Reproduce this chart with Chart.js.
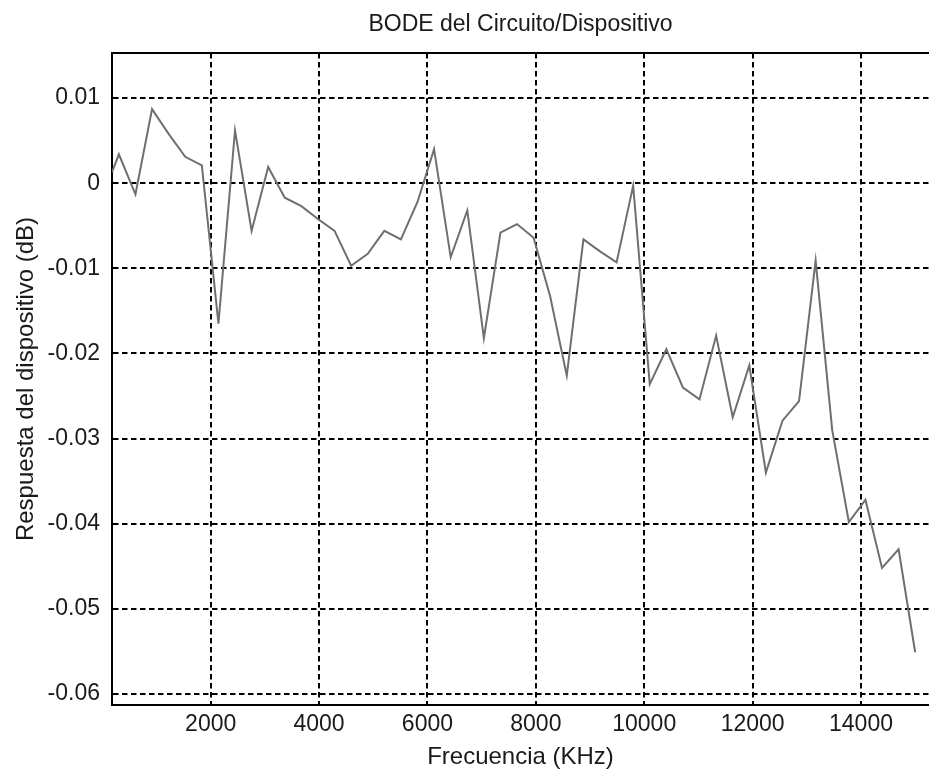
<!DOCTYPE html>
<html>
<head>
<meta charset="utf-8">
<title>BODE del Circuito/Dispositivo</title>
<script src="https://cdn.jsdelivr.net/npm/chart.js@4.4.1/dist/chart.umd.min.js"></script>
<style>
  html, body { margin: 0; padding: 0; background: #fff; }
  #bode { display: block; }
</style>
</head>
<body>
<canvas id="bode" width="929" height="775"></canvas>
<script>
// frequency (KHz) of each sample
const frequencies = [
    180, 306, 612, 918, 1224, 1531, 1837, 2143, 2449, 2755,
    3061, 3367, 3673, 3980, 4286, 4592, 4898, 5204, 5510, 5816,
    6122, 6429, 6735, 7041, 7347, 7653, 7959, 8265, 8571, 8878,
    9184, 9490, 9796, 10102, 10408, 10714, 11020, 11327, 11633, 11939,
    12245, 12551, 12857, 13163, 13469, 13776, 14082, 14388, 14694, 15000
];

// device response (dB)
const response = [
    0.0013, 0.0034, -0.0013, 0.0087, 0.0058, 0.0031, 0.0021, -0.0165, 0.0062, -0.0056,
    0.0019, -0.0017, -0.0027, -0.0042, -0.0056, -0.0097, -0.0083, -0.0056, -0.0066, -0.0022,
    0.0040, -0.0087, -0.0032, -0.0182, -0.0058, -0.0048, -0.0064, -0.0133, -0.0226, -0.0066,
    -0.0080, -0.0093, -0.0003, -0.0236, -0.0195, -0.0240, -0.0254, -0.0179, -0.0275, -0.0214,
    -0.0340, -0.0279, -0.0256, -0.0091, -0.0290, -0.0398, -0.0372, -0.0452, -0.0430, -0.0551
];

const xTicks = [2000, 4000, 6000, 8000, 10000, 12000, 14000];
const yTicks = [0.01, 0, -0.01, -0.02, -0.03, -0.04, -0.05, -0.06];
const yTickLabels = ['0.01', '0', '-0.01', '-0.02', '-0.03', '-0.04', '-0.05', '-0.06'];

const TITLE = 'BODE del Circuito/Dispositivo';
const FONT = '"Liberation Sans", Arial, Helvetica, sans-serif';

// title centred over the axes box, plus the top frame line
// (the axes box has no right edge in the picture)
const frame = {
    id: 'frame',
    afterDatasetsDraw(chart) {
        const a = chart.chartArea;
        const ctx = chart.ctx;
        ctx.save();
        ctx.strokeStyle = '#000';
        ctx.lineWidth = 2;
        ctx.beginPath();
        ctx.moveTo(a.left - 1, a.top);
        ctx.lineTo(a.right, a.top);
        ctx.stroke();

        ctx.fillStyle = '#1a1a1a';
        ctx.font = '23px ' + FONT;
        ctx.textAlign = 'center';
        ctx.textBaseline = 'middle';
        ctx.fillText(TITLE, (a.left + a.right) / 2, 25);
        ctx.restore();
    }
};

const gridStyle = { color: '#000', lineWidth: 2, drawTicks: false };

new Chart(document.getElementById('bode'), {
    type: 'line',
    data: {
        datasets: [{
            data: frequencies.map((f, i) => ({ x: f, y: response[i] })),
            borderColor: '#6f6f6f',
            borderWidth: 2,
            pointRadius: 0,
            tension: 0,
            fill: false
        }]
    },
    options: {
        responsive: false,
        animation: false,
        events: [],
        layout: { padding: { left: 0, right: 0, top: 53, bottom: 0 } },
        plugins: {
            legend: { display: false },
            tooltip: { enabled: false },
            title: { display: false }
        },
        scales: {
            x: {
                type: 'linear',
                min: 179,
                max: 15255,
                afterBuildTicks: s => { s.ticks = xTicks.map(v => ({ value: v })); },
                afterFit: s => { s.height = 70; },
                grid: gridStyle,
                border: { display: true, color: '#000', width: 2, dash: [5.5, 3.5] },
                ticks: {
                    color: '#1a1a1a',
                    padding: 6,
                    maxRotation: 0,
                    autoSkip: false,
                    font: { family: FONT, size: 23 },
                    callback: v => String(v)
                },
                title: {
                    display: true,
                    text: 'Frecuencia (KHz)',
                    color: '#1a1a1a',
                    font: { family: FONT, size: 24 },
                    padding: { top: 0, bottom: 3 }
                }
            },
            y: {
                type: 'linear',
                min: -0.0613,
                max: 0.0153,
                afterBuildTicks: s => { s.ticks = yTicks.map(v => ({ value: v })); },
                afterFit: s => { s.width = 112; },
                grid: gridStyle,
                border: { display: true, color: '#000', width: 2, dash: [5.5, 3.5] },
                ticks: {
                    color: '#1a1a1a',
                    padding: 12,
                    autoSkip: false,
                    font: { family: FONT, size: 23 },
                    callback: (v, i) => yTickLabels[i]
                },
                title: {
                    display: true,
                    text: 'Respuesta del dispositivo (dB)',
                    color: '#1a1a1a',
                    font: { family: FONT, size: 24 },
                    padding: { top: 12, bottom: 0 }
                }
            }
        }
    },
    plugins: [frame]
});
</script>
</body>
</html>
